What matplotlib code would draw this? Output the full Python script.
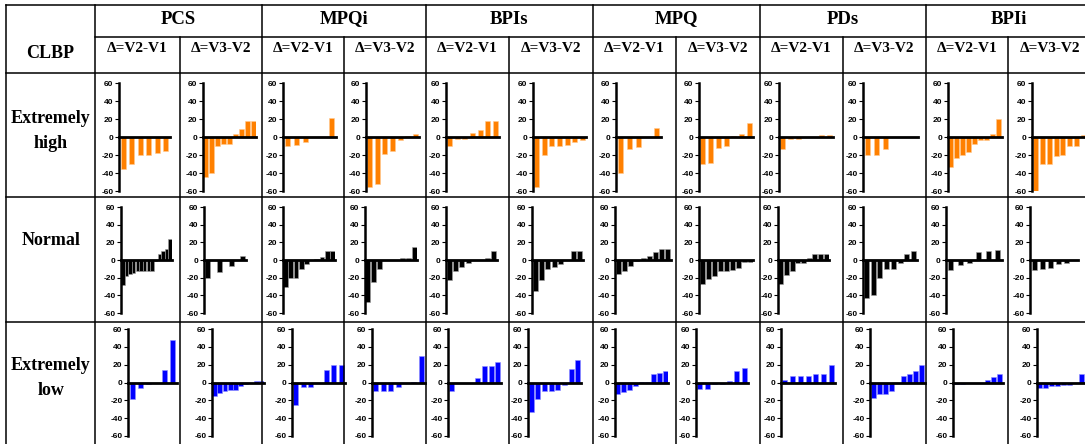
import matplotlib
matplotlib.use('Agg')
import matplotlib.pyplot as plt
from matplotlib.lines import Line2D

plt.rcParams['axes.unicode_minus'] = False

# ---- data (change scores per patient) ----
measures = ['PCS', 'MPQi', 'BPIs', 'MPQ', 'PDs', 'BPIi']
deltas = ['Δ=V2-V1', 'Δ=V3-V2']
groups = ['Extremely\nhigh', 'Normal', 'Extremely\nlow']
yticks = [60, 40, 20, 0, -20, -40, -60]

# Extremely high CLBP: (V2-V1, V3-V2)
high_pcs = ([-35, -29, -19, -19, -17, -15], [-44, -40, -10, -7, -7, 4, 9, 18, 18])
high_mpqi = ([-9, -8, -5, 0, 0, 22], [-55, -52, -18, -15, -3, 2, 4])
high_bpis = ([-10, -2, -2, 5, 8, 18, 18], [-55, -20, -10, -10, -8, -5, -3])
high_mpq = ([-39, -13, -11, 0, 11], [-30, -28, -12, -9, 2, 4, 16])
high_pds = ([-13, -2, -2, 0, 0, 3, 3], [-20, -20, -13, 0, 0, 0])
high_bpii = ([-33, -23, -19, -16, -7, -3, -3, 4, 20], [-60, -29, -29, -21, -19, -10, -10, 3])

# Normal CLBP
norm_pcs = ([-28, -18, -16, -15, -13, -13, -13, -12, -12, -1, 7, 10, 12, 24], [-20, 0, -14, 0, -7, 0, 4])
norm_mpqi = ([-30, -20, -20, -10, -5, 0, 1, 3, 10, 10], [-48, -25, -10, 0, 0, 0, 2, 2, 15])
norm_bpis = ([-23, -13, -8, -3, 0, 0, 2, 10], [-35, -23, -10, -8, -5, 0, 10, 10])
norm_mpq = ([-16, -13, -7, -1, 2, 4, 9, 13, 13], [-27, -22, -18, -13, -13, -11, -9, -2, -2])
norm_pds = ([-27, -17, -13, -3, -3, 2, 7, 7, 7], [-43, -40, -20, -10, -10, -3, 7, 10])
norm_bpii = ([-11, -6, -3, 9, 10, 11], [-11, -10, -9, -4, -3, 0])

# Extremely low CLBP
low_pcs = ([-18, -6, -2, 0, 14, 48], [-15, -12, -10, -8, -8, -4, -2, 0, 2, 2])
low_mpqi = ([-25, -5, -5, 0, 14, 20, 20], [-10, -9, -9, -5, 0, 1, 30])
low_bpis = ([-10, 0, 0, 0, 5, 18, 18, 23], [-33, -18, -10, -10, -8, -3, 15, 25])
low_mpq = ([-13, -11, -8, -4, 1, 1, 9, 11, 13], [-7, -7, -2, -2, 2, 13, 16])
low_pds = ([3, 7, 7, 7, 10, 10, 20], [-17, -13, -13, -10, 0, 7, 10, 13, 20])
low_bpii = ([-2, -2, 0, 0, 0, 3, 6, 9], [-6, -6, -4, -4, -3, -3, 0, 9, 13])

rows = [
    [high_pcs, high_mpqi, high_bpis, high_mpq, high_pds, high_bpii],
    [norm_pcs, norm_mpqi, norm_bpis, norm_mpq, norm_pds, norm_bpii],
    [low_pcs, low_mpqi, low_bpis, low_mpq, low_pds, low_bpii],
]
bar_colors = ['#FF8000', '#000000', '#0000FF']
edge_colors = ['#FFC890', '#A0A0A0', '#9090FF']

# ---- layout in pixels ----
W, H = 1085, 444
group_x = [95, 262, 426, 593, 760, 926, 1092]
sub_x = [180, 344, 509, 676, 843, 1008]
row_y = [73, 197, 322]
axis_left = [
    [119, 203, 283, 366, 446, 533, 616, 699, 779, 863, 948, 1032],
    [121, 204, 283, 365, 446, 532, 615, 699, 778, 863, 946, 1030],
    [128, 212, 292, 372, 448, 528, 615, 696, 781, 870, 953, 1037],
]
axis_right = [
    [170, 256, 336, 419, 499, 586, 661, 753, 833, 918, 1002, 1087],
    [172, 246, 335, 417, 497, 583, 671, 753, 829, 917, 1002, 1078],
    [177, 264, 345, 425, 501, 581, 668, 748, 835, 925, 1003, 1090],
]
row_span = [(83.5, 191.5), (207, 313), (329, 436)]
bar_px = 5.0

fig = plt.figure(figsize=(W / 100, H / 100), dpi=100)


def fx(x):
    return x / W


def fy(y):
    return 1 - y / H


def hline(y, x0, x1):
    fig.add_artist(Line2D([fx(x0), fx(x1)], [fy(y), fy(y)], color='black', lw=1.1))


def vline(x, y0, y1):
    fig.add_artist(Line2D([fx(x), fx(x)], [fy(y0), fy(y1)], color='black', lw=1.1))


# table grid
hline(5, 6, W + 5)
hline(37, 95, W + 5)
for y in row_y:
    hline(y, 6, W + 5)
vline(6, 5, H + 5)
for x in group_x[:-1]:
    vline(x, 5, H + 5)
for x in sub_x:
    vline(x, 37, H + 5)

serif = 'Liberation Serif'
fig.text(fx(50), fy(54), 'CLBP', ha='center', va='center', fontsize=13,
         fontweight='bold', family=serif)
for i, name in enumerate(measures):
    xc = (group_x[i] + group_x[i + 1]) / 2
    fig.text(fx(xc), fy(19), name, ha='center', va='center', fontsize=13.5,
             fontweight='bold', family=serif)
    sub_edges = [group_x[i], sub_x[i], group_x[i + 1]]
    for j, d in enumerate(deltas):
        xs = (sub_edges[j] + sub_edges[j + 1]) / 2
        fig.text(fx(xs), fy(48), d, ha='center', va='center', fontsize=11,
                 fontweight='bold', family=serif)

label_y = [131, 240, 378]
for r, g in enumerate(groups):
    fig.text(fx(51), fy(label_y[r]), g, ha='center', va='center', fontsize=13,
             fontweight='bold', family=serif, linespacing=1.55)

# small bar charts
for r, row in enumerate(rows):
    top, bot = row_span[r]
    for m, pair in enumerate(row):
        for d in range(2):
            k = 2 * m + d
            vals = pair[d]
            n = len(vals)
            left, right = axis_left[r][k], axis_right[r][k]
            ax = fig.add_axes([fx(left), fy(bot), (right - left) / W, (bot - top) / H])
            ax.patch.set_visible(False)
            slot = (right - left) / n
            w = min(bar_px / slot, 0.95)
            ax.bar(range(n), vals, width=w, color=bar_colors[r],
                   edgecolor=edge_colors[r], linewidth=0.4, zorder=2)
            ax.axhline(0, color='black', lw=2.0, zorder=3, clip_on=False)
            ax.set_xlim(-0.5, n - 0.5)
            ax.set_ylim(-60, 60)
            ax.set_xticks([])
            ax.set_yticks(yticks)
            for s in ['top', 'right', 'bottom']:
                ax.spines[s].set_visible(False)
            ax.spines['left'].set_linewidth(1.8)
            ax.tick_params(axis='y', length=3, width=0.8, pad=1, labelsize=6)
            for t in ax.get_yticklabels():
                t.set_family('Liberation Sans')
                t.set_fontweight('bold')

fig.savefig('out.png', dpi=100)
